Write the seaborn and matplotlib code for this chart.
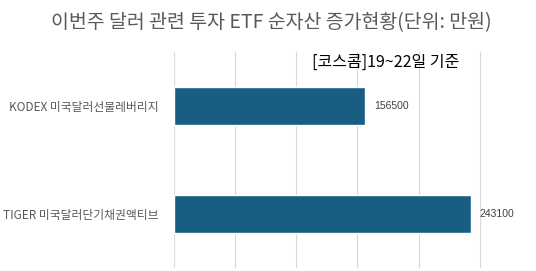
import matplotlib
matplotlib.use("Agg")
import matplotlib.pyplot as plt
import seaborn as sns
import pandas as pd

categories = ["KODEX 미국달러선물레버리지", "TIGER 미국달러단기채권액티브"]
values = [156500, 243100]
title = "이번주 달러 관련 투자 ETF 순자산 증가현황(단위: 만원)"
subtitle = "[코스콤]19~22일 기준"

sns.set_theme(style="white")
plt.rcParams['font.family'] = ['Noto Sans CJK KR', 'DejaVu Sans']

df = pd.DataFrame({"name": categories, "value": values})

fig = plt.figure(figsize=(5.36, 2.71), dpi=100)
ax = fig.add_axes([174/536, 3/271, 1 - 174/536, (268-52)/271])
sns.barplot(data=df, x="value", y="name", color="#185e82", width=0.355,
            saturation=1, ax=ax)
ax.set_xlim(0, 296000)
ax.set_ylim(1.5, -0.5)
ax.set_xticks([0, 50000, 100000, 150000, 200000, 250000])
ax.xaxis.grid(True, color="#d9d9d9", linewidth=0.8)
ax.set_axisbelow(True)
ax.tick_params(axis="x", labelbottom=False, length=0)
ax.tick_params(axis="y", length=0, pad=11, labelsize=8.5, labelcolor="#595959")
ax.set_xlabel("")
ax.set_ylabel("")
for s in ax.spines.values():
    s.set_visible(False)

for i, v in enumerate(values):
    ax.text(v + 7000, i, str(v), va="center", ha="left", fontsize=7.5,
            color="#404040", family=["Liberation Sans", "DejaVu Sans"])

fig.text(0.507, 1 - 23/271, title, ha="center", va="center", fontsize=14,
         color="#595959")
ax.text(0.584, 0.952, subtitle, transform=ax.transAxes, ha="center", va="center",
        fontsize=11.5, color="black")

fig.savefig("out.png", dpi=100)
